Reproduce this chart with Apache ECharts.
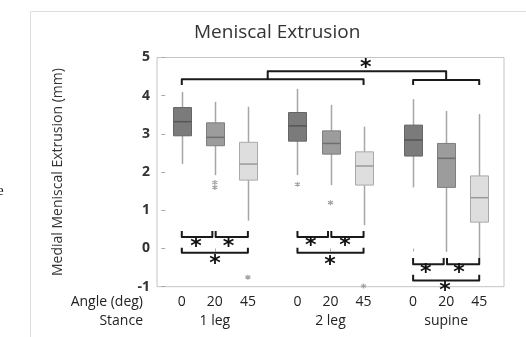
<!DOCTYPE html>
<html>
<head>
<meta charset="utf-8">
<script src="https://cdn.jsdelivr.net/npm/echarts@6/dist/echarts.min.js"></script>
<style>
  html, body { margin: 0; padding: 0; background: #fff; }
  #chart { width: 526px; height: 337px; }
</style>
</head>
<body>
<div id="chart"></div>
<script>
// Angle and stance labels
const angleLabels = ['0', '20', '45'];
const stances = ['1 leg', '2 leg', 'supine'];

// Slots along the x axis: three angles per stance, blank slots between stances
const slotCount = 21;
const groupSlots = [[1, 3, 5], [8, 10, 12], [15, 17, 19]];
const stanceSlots = [3, 10, 17];

// Box statistics per angle: [lower whisker, Q1, median, Q3, upper whisker] (mm)
const leg1 = [[2.21, 2.95, 3.32, 3.69, 4.10], [1.92, 2.69, 2.91, 3.29, 3.84], [0.73, 1.79, 2.21, 2.78, 3.71]];
const leg2 = [[1.92, 2.81, 3.21, 3.56, 4.18], [1.66, 2.47, 2.75, 3.08, 3.76], [0.61, 1.66, 2.16, 2.53, 3.19]];
const supine = [[1.60, 2.42, 2.84, 3.23, 3.91], [-0.08, 1.60, 2.36, 2.75, 3.60], [-0.25, 0.69, 1.33, 1.90, 3.52]];

// Outliers: [slot, value]
const outliers = [[3, 1.73], [3, 1.60], [5, -0.75], [8, 1.68], [10, 1.20], [12, -0.98]];

// Comparison brackets: [first slot, last slot, bar level, arm end level]
const pairBrackets = [
  [1, 2.85, 0.30, 0.46], [3.05, 5, 0.30, 0.46], [1, 5, -0.11, 0.02],
  [8, 9.85, 0.30, 0.46], [10.05, 12, 0.30, 0.46], [8, 12, -0.11, 0.02],
  [15, 16.85, -0.41, -0.25], [17.05, 19, -0.41, -0.25], [15, 19, -0.84, -0.69],
  [1, 12, 4.43, 4.28], [15, 19, 4.41, 4.28]
];
// Link between the standing and supine brackets: [left slot, right slot, top level, left foot, right foot]
const groupLinks = [[6.2, 17, 4.64, 4.43, 4.41]];
// Significance stars: [slot, level]
const stars = [
  [1.86, 0.16], [3.82, 0.16], [3.01, -0.29],
  [8.80, 0.18], [10.88, 0.18], [9.97, -0.30],
  [15.77, -0.52], [17.78, -0.52], [16.93, -1.0],
  [12.13, 4.85]
];

// Y axis range
const yMin = -1, yMax = 5, yStep = 1;

// Per-angle box shading: [fill, border, median]
const shades = [
  ['#7b7b7b', '#666666', '#555555'],
  ['#9c9c9c', '#7e7e7e', '#6e6e6e'],
  ['#dedede', '#a9a9a9', '#9a9a9a']
];
const whiskerColor = '#a6a6a6';

// Build the per-slot label arrays and box rows
const angleBySlot = new Array(slotCount).fill('');
const stanceBySlot = new Array(slotCount).fill('');
const slotKeys = [];
for (let i = 0; i < slotCount; i++) slotKeys.push('s' + i);
groupSlots.forEach(g => g.forEach((s, j) => { angleBySlot[s] = angleLabels[j]; }));
stanceSlots.forEach((s, k) => { stanceBySlot[s] = stances[k]; });

const boxRows = [];
[leg1, leg2, supine].forEach((grp, gi) => {
  grp.forEach((st, j) => {
    boxRows.push([groupSlots[gi][j]].concat(st, [j]));
  });
});

const chart = echarts.init(document.getElementById('chart'), null, { renderer: 'canvas' });
const labelFont = '"Open Sans", "Noto Sans", sans-serif';

const option = {
  animation: false,
  backgroundColor: '#ffffff',
  title: {
    text: 'Meniscal Extrusion',
    left: 194, top: 23,
    padding: 0,
    textStyle: { fontFamily: labelFont, fontSize: 19, fontWeight: 'normal', color: '#333333' }
  },
  graphic: [
    { type: 'polyline', shape: { points: [[30.5, 337], [30.5, 11.5], [526, 11.5]] },
      style: { stroke: '#dddddd', lineWidth: 1, fill: null }, silent: true },
    { type: 'text', left: -3, top: 184,
      style: { text: 'e', font: '15px "Liberation Serif", serif', fill: '#111' } },
    // row title for the angle labels
    { type: 'text', x: 143, y: 295,
      style: { text: 'Angle (deg)', font: '14px ' + labelFont, fill: '#222', align: 'right', verticalAlign: 'top' } }
  ],
  grid: {
    left: 157, top: 57.5, width: 347, height: 229.2,
    show: true, borderColor: '#c4c4c4', borderWidth: 1, backgroundColor: 'transparent'
  },
  xAxis: [
    {
      type: 'category', data: slotKeys, boundaryGap: true, position: 'bottom',
      axisLine: { show: false },
      axisTick: { show: true, alignWithLabel: true, length: 3, lineStyle: { color: '#aaaaaa' },
        interval: (i) => angleBySlot[i] !== '' },
      axisLabel: { margin: 8, fontFamily: labelFont, fontSize: 14, color: '#222',
        interval: (i) => angleBySlot[i] !== '', formatter: (v, i) => angleBySlot[i] },
      splitLine: { show: false }
    },
    {
      type: 'category', data: slotKeys, boundaryGap: true, position: 'bottom', offset: 19,
      name: 'Stance', nameLocation: 'start', nameGap: 14,
      nameTextStyle: { fontFamily: labelFont, fontSize: 14, color: '#222', align: 'right', verticalAlign: 'top', padding: [8, 0, 0, 0] },
      axisLine: { show: false },
      axisTick: { show: false },
      axisLabel: { margin: 8, fontFamily: labelFont, fontSize: 14, color: '#222',
        interval: (i) => stanceBySlot[i] !== '', formatter: (v, i) => stanceBySlot[i] },
      splitLine: { show: false }
    },
    {
      type: 'value', min: -0.5, max: slotCount - 0.5, show: false, position: 'top'
    }
  ],
  yAxis: {
    type: 'value', min: yMin, max: yMax, interval: yStep,
    name: 'Medial Meniscal Extrusion (mm)', nameLocation: 'middle', nameGap: 92,
    nameTextStyle: { fontFamily: labelFont, fontSize: 14, color: '#333' },
    axisLine: { show: false },
    axisTick: { show: true, length: 4, lineStyle: { color: '#aaaaaa' } },
    axisLabel: { margin: 7, fontFamily: labelFont, fontSize: 14, fontWeight: 'bold', color: '#333' },
    splitLine: { show: false }
  },
  series: [
    {
      // box-and-whisker marks
      type: 'custom', xAxisIndex: 2, yAxisIndex: 0,
      data: boxRows,
      renderItem: function (params, api) {
        const x = api.value(0);
        const lo = api.coord([x, api.value(1)]);
        const q1 = api.coord([x, api.value(2)]);
        const md = api.coord([x, api.value(3)]);
        const q3 = api.coord([x, api.value(4)]);
        const hi = api.coord([x, api.value(5)]);
        const sh = shades[api.value(6)];
        const cx = Math.round(lo[0]) + 0.5;
        const half = 9;
        return {
          type: 'group',
          children: [
            { type: 'line', shape: { x1: cx, y1: lo[1], x2: cx, y2: q1[1] }, style: { stroke: whiskerColor, lineWidth: 1.5 } },
            { type: 'line', shape: { x1: cx, y1: hi[1], x2: cx, y2: q3[1] }, style: { stroke: whiskerColor, lineWidth: 1.5 } },
            { type: 'rect', shape: { x: cx - half, y: q3[1], width: half * 2, height: q1[1] - q3[1] },
              style: { fill: sh[0], stroke: sh[1], lineWidth: 1 } },
            { type: 'line', shape: { x1: cx - half, y1: md[1], x2: cx + half, y2: md[1] }, style: { stroke: sh[2], lineWidth: 1.5 } }
          ]
        };
      }
    },
    {
      // outliers
      type: 'scatter', xAxisIndex: 2, yAxisIndex: 0,
      data: outliers,
      symbol: 'path://M0,-10L0,10M-8.66,-5L8.66,5M-8.66,5L8.66,-5',
      symbolSize: 5,
      itemStyle: { color: 'none', borderColor: '#8f8f8f', borderWidth: 1.2 }
    },
    {
      // comparison brackets
      type: 'custom', xAxisIndex: 2, yAxisIndex: 0,
      data: pairBrackets,
      renderItem: function (params, api) {
        const a = api.coord([api.value(0), api.value(3)]);
        const b = api.coord([api.value(0), api.value(2)]);
        const c = api.coord([api.value(1), api.value(2)]);
        const d = api.coord([api.value(1), api.value(3)]);
        return { type: 'polyline', shape: { points: [a, b, c, d] },
          style: { stroke: '#1a1a1a', lineWidth: 2, fill: null, lineJoin: 'round' } };
      }
    },
    {
      type: 'custom', xAxisIndex: 2, yAxisIndex: 0,
      data: groupLinks,
      renderItem: function (params, api) {
        const a = api.coord([api.value(0), api.value(3)]);
        const b = api.coord([api.value(0), api.value(2)]);
        const c = api.coord([api.value(1), api.value(2)]);
        const d = api.coord([api.value(1), api.value(4)]);
        return { type: 'polyline', shape: { points: [a, b, c, d] },
          style: { stroke: '#1a1a1a', lineWidth: 2, fill: null, lineJoin: 'round' } };
      }
    },
    {
      // significance stars
      type: 'custom', xAxisIndex: 2, yAxisIndex: 0,
      data: stars,
      renderItem: function (params, api) {
        const p = api.coord([api.value(0), api.value(1)]);
        return { type: 'text', x: p[0], y: p[1] + 5,
          style: { text: '*', font: 'bold 22px "DejaVu Sans", sans-serif', fill: '#111',
            align: 'center', verticalAlign: 'middle' } };
      }
    }
  ]
};
chart.setOption(option);
</script>
</body>
</html>
